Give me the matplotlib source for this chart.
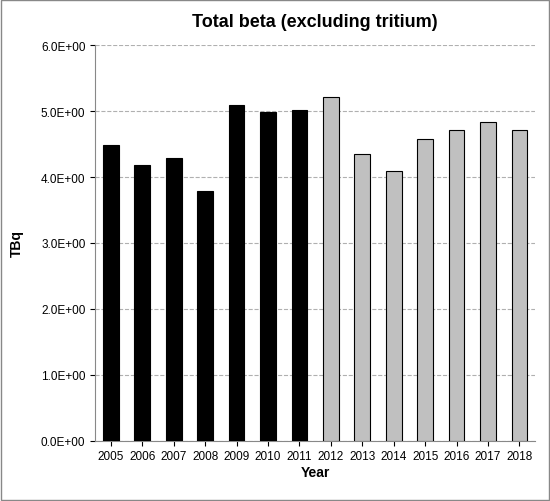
import matplotlib.pyplot as plt
import matplotlib.ticker as mticker

years = ['2005', '2006', '2007', '2008', '2009', '2010', '2011',
         '2012', '2013', '2014', '2015', '2016', '2017', '2018']
values = [4.48, 4.18, 4.29, 3.79, 5.10, 4.98, 5.02,
          5.21, 4.35, 4.09, 4.57, 4.71, 4.83, 4.71]
colors = ['black'] * 7 + ['#c0c0c0'] * 7

plt.rcParams['font.family'] = ['Liberation Sans', 'DejaVu Sans']
fig = plt.figure(figsize=(5.5, 5.02), dpi=100)
fig.patches.append(plt.Rectangle((0.002, 0.002), 0.996, 0.996, transform=fig.transFigure,
                                 fill=False, edgecolor='#888888', lw=1))
ax = fig.add_axes([0.173, 0.12, 0.8, 0.788])
ax.bar(range(len(years)), values, width=0.5, color=colors, edgecolor='black', lw=0.8, zorder=3)
ax.set_xlim(-0.5, len(years) - 0.5)
ax.set_ylim(0, 6)
ax.set_xticks(range(len(years)))
ax.set_xticklabels(years, fontsize=8.5)
ax.yaxis.set_major_locator(mticker.MultipleLocator(1))
ax.yaxis.set_major_formatter(mticker.FuncFormatter(lambda v, p: '%.1fE+00' % v))
ax.tick_params(axis='y', labelsize=8.5)
ax.grid(axis='y', ls='--', color='#b0b0b0', lw=0.8, zorder=0)
for s in ['top', 'right']:
    ax.spines[s].set_visible(False)
ax.spines['left'].set_color('#888888')
ax.spines['bottom'].set_color('#888888')
ax.set_title('Total beta (excluding tritium)', fontsize=13, fontweight='bold', pad=14)
ax.set_xlabel('Year', fontsize=10, fontweight='bold', labelpad=2)
ax.set_ylabel('TBq', fontsize=10, fontweight='bold', labelpad=12)
fig.savefig('out.png', dpi=100)
